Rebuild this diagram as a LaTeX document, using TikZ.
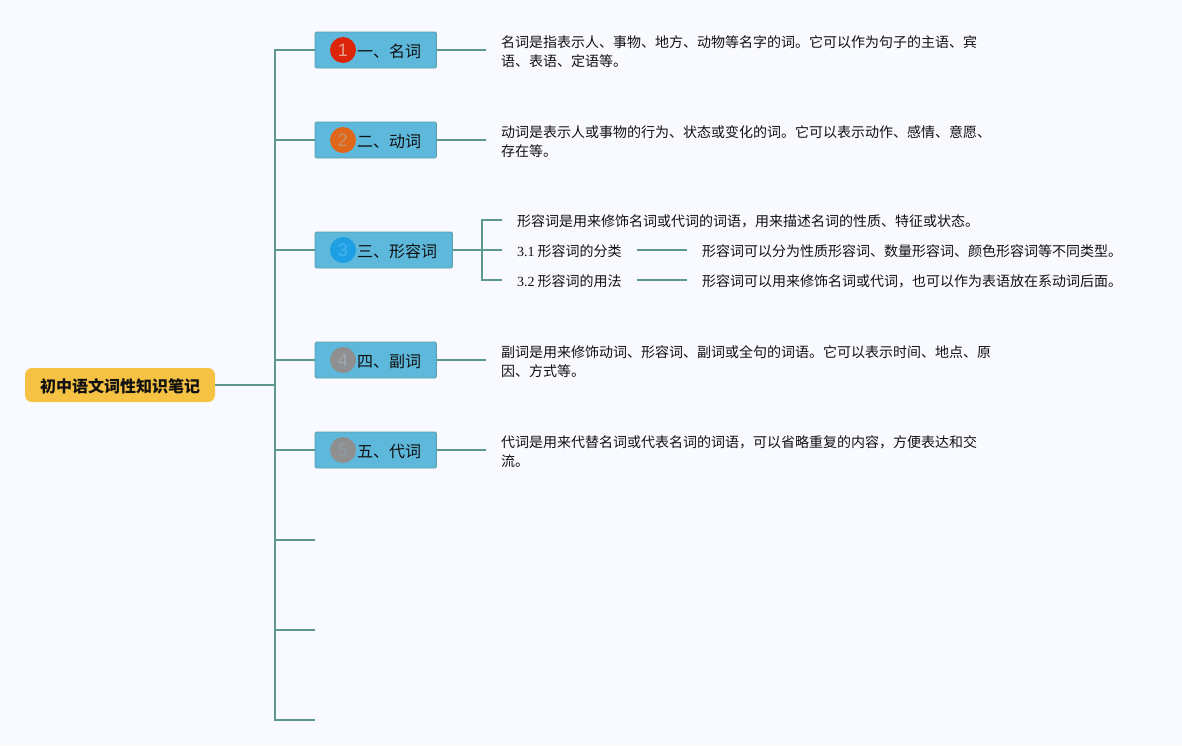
\documentclass[tikz,border=0pt]{standalone}
\usepackage{fontspec}
\setmainfont{Noto Sans CJK SC}
\newfontfamily\latn{Liberation Serif}
\newfontfamily\digi{Liberation Sans}
\definecolor{bgc}{HTML}{F9FAFF}
\definecolor{linec}{HTML}{5B9A8B}
\definecolor{boxc}{HTML}{5DB8DC}
\definecolor{boxl}{HTML}{5A9FA8}
\definecolor{rootc}{HTML}{F6C244}
\definecolor{txtc}{HTML}{111111}
\definecolor{bA}{HTML}{DC2408}
\definecolor{bB}{HTML}{E0661A}
\definecolor{bC}{HTML}{1E9FE3}
\definecolor{bD}{HTML}{8F8F8F}
\definecolor{dA}{HTML}{E8A090}
\definecolor{dB}{HTML}{C8946C}
\definecolor{dC}{HTML}{45B4EE}
\definecolor{dD}{HTML}{9CA8B2}
\definecolor{dE}{HTML}{8E9CA4}
\newcommand\toplabel[1]{\hspace*{42pt}\raisebox{-7pt}[0pt][0pt]{#1}\hspace*{15.5pt}}
\tikzset{
  conn/.style={draw=linec,line width=1.8pt},
  topic/.style={draw=boxl,fill=boxc,line width=0.8pt,rounded corners=1.5pt,minimum height=36pt,inner xsep=0pt,inner ysep=0pt,outer sep=0pt,anchor=west,font=\fontsize{16}{19}\selectfont,text=txtc},
  roottopic/.style={fill=rootc,rounded corners=7pt,minimum width=190pt,minimum height=34pt,inner sep=0pt,outer sep=0pt,anchor=west,font=\fontsize{16}{19}\selectfont\bfseries,text=txtc},
  note/.style={anchor=west,inner xsep=15pt,inner ysep=0pt,outer sep=0pt,align=left,font=\fontsize{14}{19}\selectfont,text=txtc},
  badge/.style={circle,minimum size=26pt,inner sep=0pt,font=\digi\fontsize{18}{18}\selectfont},
}
\begin{document}
\begin{tikzpicture}[x=1pt,y=-1pt]
\path[fill=bgc,use as bounding box] (0,0) rectangle (1182,745);
% root and spine
\node[roottopic] (root) at (25,385) {\raisebox{-7pt}[0pt][0pt]{初中语文词性知识笔记}};
\coordinate (sp) at (275,385);
% main topics
\node[topic] (n1) at (315,50) {\toplabel{一、名词}};
\node[topic] (n2) at (315,140) {\toplabel{二、动词}};
\node[topic] (n3) at (315,250) {\toplabel{三、形容词}};
\node[topic] (n4) at (315,360) {\toplabel{四、副词}};
\node[topic] (n5) at (315,450) {\toplabel{五、代词}};
% badges
\node[badge,fill=bA,text=dA] (b1) at (343,50) {1};
\node[badge,fill=bB,text=dB] (b2) at (343,140) {2};
\node[badge,fill=bC,text=dC] (b3) at (343,250) {3};
\node[badge,fill=bD,text=dD] (b4) at (343,360) {4};
\node[badge,fill=bD,text=dE] (b5) at (343,450) {5};
% notes
\node[note] (t1) at (486,51.5) {名词是指表示人、事物、地方、动物等名字的词。它可以作为句子的主语、宾\\语、表语、定语等。};
\node[note] (t2) at (486,141.5) {动词是表示人或事物的行为、状态或变化的词。它可以表示动作、感情、意愿、\\存在等。};
\node[note] (t4) at (486,361.5) {副词是用来修饰动词、形容词、副词或全句的词语。它可以表示时间、地点、原\\因、方式等。};
\node[note] (t5) at (486,451.5) {代词是用来代替名词或代表名词的词语，可以省略重复的内容，方便表达和交\\流。};
\coordinate (j3) at (482,250);
\node[note] (c0) at (502,221) {形容词是用来修饰名词或代词的词语，用来描述名词的性质、特征或状态。};
\node[note] (c1) at (502,251) {{\latn 3.1} 形容词的分类};
\node[note] (c2) at (502,281) {{\latn 3.2} 形容词的用法};
\node[note] (d1) at (687,251) {形容词可以分为性质形容词、数量形容词、颜色形容词等不同类型。};
\node[note] (d2) at (687,281) {形容词可以用来修饰名词或代词，也可以作为表语放在系动词后面。};
% free ends
\coordinate (s6) at (315,540);
\coordinate (s7) at (315,630);
\coordinate (s8) at (315,720);
% connectors
\draw[conn] (root.east) -- (sp);
\foreach \k in {n1,n2,n3,n4,n5,s6,s7,s8}{\draw[conn] (sp) |- (\k);}
\foreach \a/\b in {n1/t1,n2/t2,n4/t4,n5/t5}{\draw[conn] (\a.east) -- ([yshift=1.5pt]\b.west);}
\foreach \a/\b in {c1/d1,c2/d2}{\draw[conn] ([yshift=1pt]\a.east) -- ([yshift=1pt]\b.west);}
\draw[conn] (n3.east) -- (j3);
\draw[conn] (j3) |- ([yshift=1pt]c0.west);
\draw[conn] (j3) -- ([yshift=1pt]c1.west);
\draw[conn] (j3) |- ([yshift=1pt]c2.west);
\end{tikzpicture}
\end{document}
